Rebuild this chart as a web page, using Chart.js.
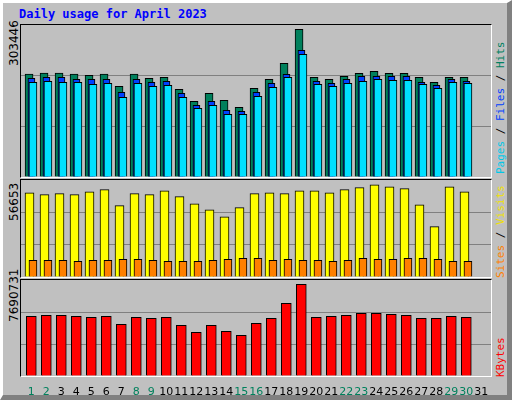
<!DOCTYPE html>
<html>
<head>
<meta charset="utf-8">
<script src="https://cdn.jsdelivr.net/npm/chart.js@4"></script>
<style>
  body { margin: 0; }
  #frame { position: absolute; left: 0; top: 0; width: 504px; height: 392px; background: #c0c0c0;
    border-style: solid; border-width: 3px 5px 5px 3px; border-color: #fff #808080 #808080 #fff; }
  .panel { position: absolute; left: 20px; width: 470px; border-style: solid; border-width: 1px;
    border-color: #000 #fff #fff #000; }
  canvas { position: absolute; }
  .vlab { position: absolute; transform-origin: 0 0; transform: rotate(-90deg); white-space: nowrap;
    font-family: "DejaVu Sans Mono", monospace; font-size: 11px; }
  .num { font-family: "DejaVu Sans", sans-serif; font-size: 12px; color: #000; }
  #title { position: absolute; left: 19px; top: 7px; font: bold 12px "DejaVu Sans Mono", monospace; color: #0000ff; }
</style>
</head>
<body>
<div id="frame"></div>
<div id="title">Daily usage for April 2023</div>
<div class="panel" style="top:24px;height:152px"></div>
<div class="panel" style="top:179px;height:97px"></div>
<div class="panel" style="top:279px;height:96px"></div>
<canvas id="c1" width="470" height="152" style="left:21px;top:25px"></canvas>
<canvas id="c2" width="470" height="97" style="left:21px;top:180px"></canvas>
<canvas id="c3" width="470" height="116" style="left:21px;top:280px"></canvas>
<div class="vlab num" style="left:7px;top:66px">303446</div>
<div class="vlab num" style="left:7px;top:221px">56653</div>
<div class="vlab num" style="left:7px;top:322px">7690731</div>
<div class="vlab" style="left:494px;top:174px"><span style="color:#00c8e8">Pages</span> / <span style="color:#0040ff">Files</span> / <span style="color:#008060">Hits</span></div>
<div class="vlab" style="left:494px;top:278px"><span style="color:#ff8000">Sites</span> / <span style="color:#f0e000">Visits</span></div>
<div class="vlab" style="left:494px;top:377px"><span style="color:#ff0000">KBytes</span></div>
<script>
const days = ['1','2','3','4','5','6','7','8','9','10','11','12','13','14','15','16','17','18','19','20','21','22','23','24','25','26','27','28','29','30','31'];
const weekend = [1, 2, 8, 9, 15, 16, 22, 23, 29, 30];

const hits  = [205600,207600,207600,205600,203000,205600,181000,205600,197000,199000,175000,151100,167100,153100,139100,177000,195000,226900,294800,199000,195000,201000,207000,211000,207000,207000,199000,189000,199000,199000];
const files = [197000,199000,199000,195000,195000,195000,169100,195000,189000,191000,167100,143100,151100,133100,131100,169100,187000,205000,252900,191000,187000,195000,201000,201000,201000,201000,189000,183000,195000,191000];
const pages = [189000,191000,189000,189000,185000,187000,159100,187000,181000,183000,159100,137100,143100,125100,125100,161100,179000,199000,244900,185000,181000,187000,191000,195000,193000,193000,185000,177000,189000,187000];
const visits = [49200,48100,48700,48100,49800,51000,41700,48700,48100,50400,46900,42800,39300,35200,40500,48700,49200,48700,50400,50400,49200,51000,52200,53900,52700,51600,42200,29400,52700,49800];
const sites  = [9700,9700,9700,9200,9700,9700,10300,10300,9700,9200,9200,9200,9700,10300,10900,10900,9700,10300,9700,9700,9200,9700,10900,10300,10300,10900,10900,10300,9200,9200];
const kbytes = [4780000,4860000,4860000,4780000,4700000,4780000,4140000,4700000,4620000,4700000,4060000,3500000,4060000,3580000,3260000,4220000,4620000,5820000,7350000,4700000,4780000,4860000,5020000,5020000,4940000,4860000,4620000,4620000,4780000,4700000];
const maxHits = 303446, maxVisits = 56653, maxKB = 7690731;

const pts = (arr, off) => arr.map((v, i) => ({ x: i + 1 + off, y: v }));
// order: higher value is drawn first (further back)
const bar = (label, arr, off, color, w, order) => ({
  label, data: pts(arr, off), backgroundColor: color, borderColor: '#000',
  borderWidth: 1, barThickness: w, grouped: false, order
});

function panel(id, datasets, max, showX) {
  return new Chart(document.getElementById(id), {
    type: 'bar',
    data: { datasets },
    options: {
      responsive: false, animation: false,
      layout: { padding: 0 },
      plugins: { legend: { display: false }, tooltip: { enabled: false } },
      scales: {
        x: {
          type: 'linear', min: 0.313, max: 31.647, offset: false,
          display: showX,
          grid: { display: false }, border: { display: false },
          afterBuildTicks: s => { s.ticks = days.map(d => ({ value: +d })); },
          afterFit: s => { if (showX) s.height = 20; },
          ticks: {
            autoSkip: false, maxRotation: 0, padding: 2,
            font: { family: 'DejaVu Sans', size: 11 },
            callback: v => days[v - 1],
            color: c => weekend.includes(c.tick.value) ? '#00805c' : '#000'
          }
        },
        y: {
          min: 0, max, display: true,
          afterBuildTicks: s => { s.ticks = [0, max / 3, 2 * max / 3, max].map(v => ({ value: v })); },
          afterFit: s => { s.width = 0; },
          ticks: { display: false },
          border: { display: false },
          grid: { drawTicks: false, color: c => (c.index === 1 || c.index === 2) ? '#808080' : 'rgba(0,0,0,0)' }
        }
      }
    }
  });
}

panel('c1', [
  bar('Hits', hits, -0.15, '#00805c', 8, 3),
  bar('Files', files, 0.01, '#0040ff', 7, 2),
  bar('Pages', pages, 0.11, '#00e0ff', 8, 1)
], maxHits, false);

panel('c2', [
  bar('Visits', visits, -0.12, '#ffff00', 9, 2),
  bar('Sites', sites, 0.11, '#ff8000', 8, 1)
], maxVisits, false);

panel('c3', [
  bar('KBytes', kbytes, 0, '#ff0000', 10, 1)
], maxKB, true);
</script>
</body>
</html>
